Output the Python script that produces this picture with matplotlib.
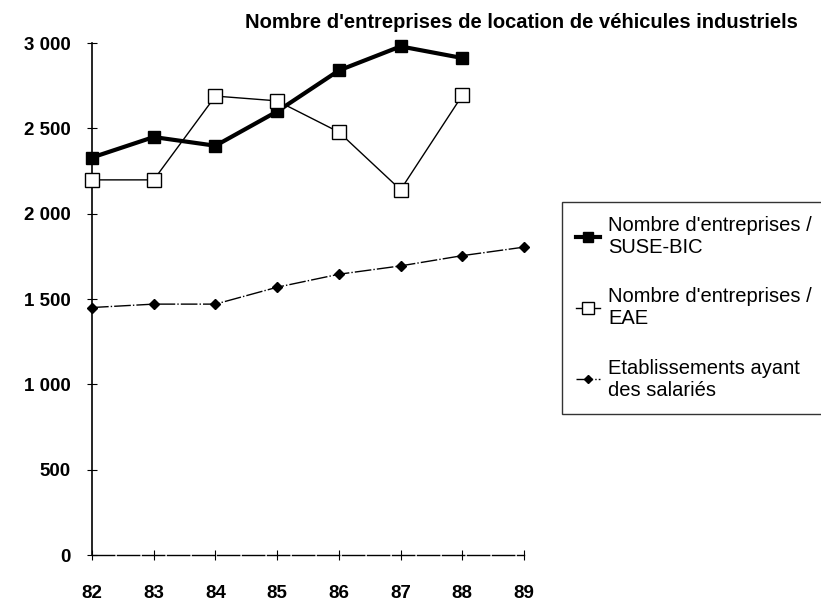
import matplotlib
matplotlib.use("Agg")
import matplotlib.pyplot as plt

years = [82, 83, 84, 85, 86, 87, 88, 89]
year_labels = ["82", "83", "84", "85", "86", "87", "88", "89"]

suse_bic = [2329, 2449, 2398, 2599, 2839, 2980, 2912]
eae = [2198, 2198, 2689, 2661, 2478, 2140, 2693]
etablissements = [1450, 1470, 1470, 1569, 1645, 1694, 1754, 1804]

y_ticks = [0, 500, 1000, 1500, 2000, 2500, 3000]
y_labels = ["0", "500", "1 000", "1 500", "2 000", "2 500", "3 000"]

plt.rcParams["font.family"] = ["Liberation Sans", "DejaVu Sans"]

fig = plt.figure(figsize=(8.21, 6.03), dpi=100)
ax = fig.add_axes([92 / 821, 1 - 555 / 603, (524 - 92) / 821, (555 - 43) / 603])

l1, = ax.plot(years[:7], suse_bic, color="black", lw=3, marker="s", ms=9,
              mfc="black", mec="black", clip_on=False, zorder=3)
l2, = ax.plot(years[:7], eae, color="black", lw=1, marker="s", ms=10,
              mfc="white", mec="black", mew=1, clip_on=False, zorder=4)
l3, = ax.plot(years, etablissements, color="black", lw=1, ls=(0, (12, 1.5, 1, 1.5)),
              marker="D", ms=5, mfc="black", mec="black", clip_on=False, zorder=3)

ax.set_xlim(82, 89)
ax.set_ylim(0, 3000)
ax.set_xticks(years)
ax.set_xticklabels(year_labels, fontsize=13.5, fontweight="bold")
ax.set_yticks(y_ticks)
ax.set_yticklabels(y_labels, fontsize=13.5, fontweight="bold")
ax.tick_params(direction="inout", length=7, width=0.8)
ax.tick_params(axis="y", pad=12)
ax.tick_params(axis="x", pad=18)

for s in ["top", "right"]:
    ax.spines[s].set_visible(False)
ax.spines["left"].set_linewidth(1.2)
ax.spines["bottom"].set_linewidth(1)
ax.spines["bottom"].set_linestyle((0, (16, 2)))

fig.text(521 / 821, 1 - 22 / 603, "Nombre d'entreprises de location de véhicules industriels",
         ha="center", va="center", fontsize=14.5, fontweight="bold")

leg = fig.legend([l1, l2, l3],
                 ["Nombre d'entreprises /\nSUSE-BIC",
                  "Nombre d'entreprises /\nEAE",
                  "Etablissements ayant\ndes salariés"],
                 loc="upper left", bbox_to_anchor=(562 / 821, 1 - 202 / 603),
                 borderaxespad=0, fontsize=14.5, handlelength=1.2, handletextpad=0.4,
                 labelspacing=1.5, fancybox=False, frameon=True, borderpad=0.7,
                 markerscale=0.8)
leg.get_frame().set_edgecolor("black")
leg.get_frame().set_linewidth(1)

fig.savefig("out.png", dpi=100)
